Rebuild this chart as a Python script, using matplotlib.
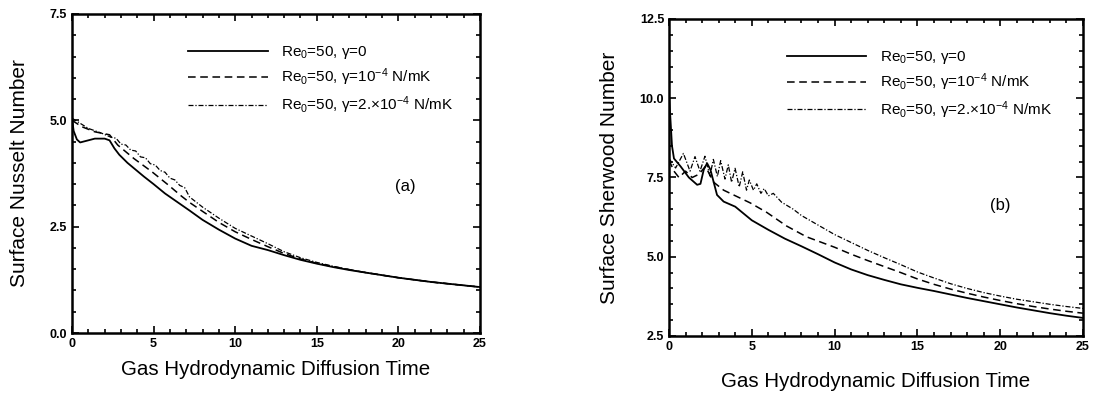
import matplotlib
matplotlib.use("Agg")
import matplotlib.pyplot as plt
from matplotlib.ticker import MultipleLocator, FormatStrFormatter

plt.rcParams['font.family'] = ['Liberation Sans', 'DejaVu Sans']
plt.rcParams['mathtext.fontset'] = 'custom'
plt.rcParams['mathtext.rm'] = 'Liberation Sans'
plt.rcParams['mathtext.it'] = 'Liberation Sans:italic'

# (a) Surface Nusselt number
nu_t_solid = [0, 0.1, 0.3, 0.5, 0.9, 1.4, 2.0, 2.3, 2.6, 2.9, 3.4, 4.4, 5.0, 5.7, 7.2, 8, 9, 10, 11,
              12, 13, 14, 15, 16, 17, 18, 19, 20, 21, 22, 23, 24, 25]
nu_solid = [5.05, 4.75, 4.55, 4.48, 4.52, 4.57, 4.57, 4.53, 4.34, 4.19, 4.0, 3.68, 3.5, 3.28, 2.88,
            2.66, 2.43, 2.22, 2.05, 1.95, 1.83, 1.72, 1.63, 1.55, 1.48, 1.42, 1.36, 1.3, 1.25, 1.2,
            1.16, 1.12, 1.08]
nu_t_dash = [0, 0.6, 1.4, 2.3, 2.8, 3.8, 4.9, 5.9, 6.7, 7.2, 8, 9, 10, 11, 12, 13, 14, 15, 16, 17,
             18, 19, 20, 21, 22, 23, 24, 25]
nu_dash = [5.0, 4.85, 4.73, 4.66, 4.42, 4.1, 3.79, 3.48, 3.22, 3.07, 2.86, 2.6, 2.38, 2.2,
           2.03, 1.87, 1.74, 1.64, 1.56, 1.49, 1.42, 1.36, 1.3, 1.25, 1.2, 1.16, 1.12, 1.08]
nu_t_dd = [0, 1.0, 1.8, 2.4, 2.7, 3.0, 3.3, 3.6, 3.9, 4.2, 4.5, 4.8, 5.1, 5.4, 5.7, 6.0, 6.3, 6.6,
           6.9, 7.2, 8, 9, 10, 11, 12, 13, 14, 15, 16, 17, 18, 19, 20, 21, 22, 23, 24, 25]
nu_dd = [5.05, 4.81, 4.7, 4.6, 4.58, 4.44, 4.42, 4.3, 4.28, 4.14, 4.12, 3.98, 3.95, 3.82, 3.78,
         3.64, 3.6, 3.47, 3.42, 3.2, 2.96, 2.7, 2.46, 2.28, 2.1, 1.91, 1.77, 1.66, 1.57, 1.49,
         1.42, 1.36, 1.3, 1.25, 1.2, 1.16, 1.12, 1.08]

# (b) Surface Sherwood number
sh_t_solid = [0, 0.08, 0.18, 0.3, 0.7, 1.2, 1.7, 1.9, 2.1, 2.3, 2.5, 2.9, 3.3, 4.0, 5, 6, 7, 8, 9,
              10, 11, 12, 13, 14, 15, 16, 17, 18, 19, 20, 21, 22, 23, 24, 25]
sh_solid = [10.1, 9.4, 8.5, 8.1, 7.85, 7.5, 7.27, 7.3, 7.75, 7.95, 7.75, 6.95, 6.74, 6.58, 6.15,
            5.85, 5.57, 5.33, 5.08, 4.82, 4.6, 4.42, 4.27, 4.13, 4.02, 3.92, 3.81, 3.7, 3.6, 3.5,
            3.4, 3.31, 3.22, 3.14, 3.07]
sh_t_dash = [0, 0.3, 0.6, 1.0, 1.4, 1.8, 2.2, 2.7, 3.3, 3.9, 4.9, 5.9, 7.1, 8.3, 10, 11, 12, 13, 14,
             15, 16, 17, 18, 19, 20, 21, 22, 23, 24, 25]
sh_dash = [8.05, 7.7, 7.5, 7.7, 7.5, 7.6, 7.85, 7.35, 7.1, 6.95, 6.7, 6.4, 5.97, 5.63, 5.3, 5.08,
           4.88, 4.69, 4.5, 4.3, 4.13, 3.98, 3.85, 3.73, 3.62, 3.52, 3.43, 3.35, 3.28, 3.22]
sh_t_dd = [0, 0.4, 0.87, 1.27, 1.57, 1.87, 2.17, 2.47, 2.68, 2.92, 3.12, 3.38, 3.58, 3.78, 3.99,
           4.24, 4.45, 4.68, 4.85, 5.1, 5.3, 5.55, 5.75, 6.0, 6.3, 6.8, 7.5, 8, 9, 10, 11, 12, 13,
           14, 15, 16, 17, 18, 19, 20, 21, 22, 23, 24, 25]
sh_dd = [8.1, 7.8, 8.26, 7.7, 8.16, 7.7, 8.17, 7.55, 8.07, 7.53, 8.03, 7.45, 7.9, 7.35, 7.79, 7.2,
         7.68, 7.1, 7.42, 7.1, 7.3, 7.0, 7.15, 6.92, 7.0, 6.72, 6.5, 6.3, 6.0, 5.7, 5.45, 5.2,
         4.97, 4.75, 4.52, 4.33, 4.15, 4.0, 3.87, 3.76, 3.66, 3.58, 3.5, 3.43, 3.37]

labels = ['Re$_0$=50, γ=0',
          'Re$_0$=50, γ=10$^{-4}$ N/mK',
          'Re$_0$=50, γ=2.×10$^{-4}$ N/mK']

fig = plt.figure(figsize=(10.93, 3.95), dpi=100)
ax1 = fig.add_axes([72 / 1093, 62 / 395, 408 / 1093, 319 / 395])
ax2 = fig.add_axes([669 / 1093, 59 / 395, 414 / 1093, 317 / 395])

dash_style = (0, (5, 3))
dd_style = (0, (4, 1.5, 1, 1.5))


def draw(ax, t1, y1, t2, y2, t3, y3, ylim, ylabel, tag, tag_xy, leg_y, ylx, xly):
    ax.plot(t1, y1, color='black', lw=1.3, ls='-', label=labels[0], zorder=3)
    ax.plot(t2, y2, color='black', lw=1.1, ls=dash_style, label=labels[1])
    ax.plot(t3, y3, color='black', lw=0.9, ls=dd_style, label=labels[2])
    ax.set_xlim(0, 25)
    ax.set_ylim(*ylim)
    ax.xaxis.set_major_locator(MultipleLocator(5))
    ax.xaxis.set_minor_locator(MultipleLocator(1))
    ax.yaxis.set_major_locator(MultipleLocator(2.5))
    ax.yaxis.set_minor_locator(MultipleLocator(0.5))
    ax.yaxis.set_major_formatter(FormatStrFormatter('%.1f'))
    ax.tick_params(which='both', direction='in', top=True, right=True, width=1.2)
    ax.tick_params(which='major', length=5, labelsize=9)
    ax.tick_params(which='minor', length=3)
    for lab in ax.get_xticklabels() + ax.get_yticklabels():
        lab.set_fontweight('bold')
    for s in ax.spines.values():
        s.set_linewidth(1.8)
    ax.set_ylabel(ylabel, fontsize=15)
    ax.set_xlabel('Gas Hydrodynamic Diffusion Time', fontsize=14.8)
    ax.yaxis.set_label_coords(ylx, 0.5)
    ax.xaxis.set_label_coords(0.5, xly)
    ax.text(tag_xy[0], tag_xy[1], tag, fontsize=12, ha='center', va='center')
    ax.legend(loc='upper left', bbox_to_anchor=(0.27, leg_y), frameon=False, fontsize=11,
              handlelength=5.2, handletextpad=0.9, labelspacing=0.38, borderaxespad=0)


draw(ax1, nu_t_solid, nu_solid, nu_t_dash, nu_dash, nu_t_dd, nu_dd, (0, 7.5),
     'Surface Nusselt Number', '(a)', (20.4, 3.44), 0.925, -0.105, -0.085)
draw(ax2, sh_t_solid, sh_solid, sh_t_dash, sh_dash, sh_t_dd, sh_dd, (2.5, 12.5),
     'Surface Sherwood Number', '(b)', (20.0, 6.63), 0.925, -0.12, -0.112)

fig.savefig('out.png', dpi=100)
